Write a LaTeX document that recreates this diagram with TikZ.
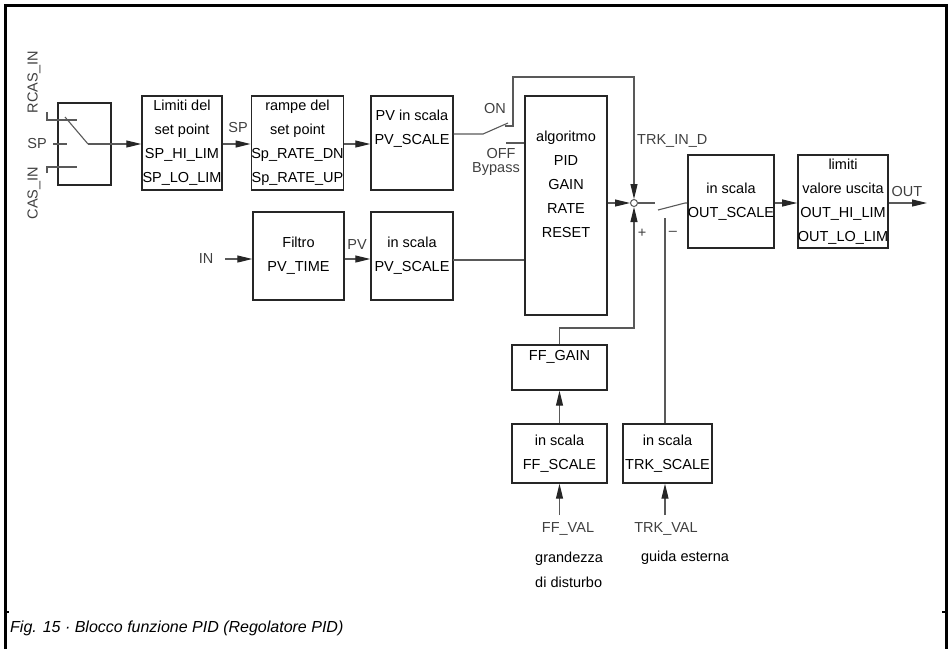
\documentclass[tikz,border=0pt]{standalone}
\usepackage{fontspec}
\setmainfont{Liberation Sans}
\usetikzlibrary{arrows.meta}
\definecolor{boxc}{gray}{0.15}
\definecolor{wirec}{gray}{0.35}
\definecolor{labc}{gray}{0.25}
\begin{document}
\begin{tikzpicture}[x=1pt,y=-1pt,
  box/.style={draw=boxc, line width=1.4pt, inner sep=0pt, align=center,
    font=\fontsize{14.5}{24}\selectfont, text=black},
  btext/.style={inner sep=0pt, align=center, font=\fontsize{14.5}{24}\selectfont, text=black, anchor=north},
  wire/.style={draw=wirec, line width=1.1pt},
  arr/.style={wire, -{Triangle[length=15pt,width=7pt,color=boxc]}},
  lbl/.style={font=\fontsize{14.5}{17}\selectfont, text=labc, inner sep=0pt},
]
\useasboundingbox (0,0) rectangle (950,649);
% frame
\draw[line width=3pt] (5,649) -- (5,5) -- (946,5) -- (946,649);
\draw[line width=2pt] (5,612) -- (9,612);
\draw[line width=2pt] (942,612) -- (946,612);

% boxes
\node[box, minimum width=53pt, minimum height=82pt] (sw) at (84.5,144) {};
\node[box, minimum width=80pt, minimum height=94pt] (lim) at (182,143)
  {Limiti del\\set point\\SP\_HI\_LIM\\SP\_LO\_LIM};
\node[box, minimum width=91pt, minimum height=94pt] (ramp) at (297.5,143)
  {rampe del\\set point\\Sp\_RATE\_DN\\Sp\_RATE\_UP};
\node[box, minimum width=82pt, minimum height=94pt] (pvsp) at (412,143) {};
\node[btext] (pvspt) at (412,110) {PV in scala\\PV\_SCALE};
\node[box, minimum width=82pt, minimum height=219pt] (alg) at (566,205.5) {};
\node[btext] (algt) at (566,131) {algoritmo\\PID\\GAIN\\RATE\\RESET};
\node[box, minimum width=91pt, minimum height=88pt] (filt) at (298.5,256) {Filtro\\PV\_TIME};
\node[box, minimum width=82pt, minimum height=88pt] (pvs2) at (412,256) {in scala\\PV\_SCALE};
\node[box, minimum width=82pt, minimum height=93pt] (outs) at (731,201.5) {in scala\\OUT\_SCALE};
\node[box, minimum width=88pt, minimum height=93pt] (lims) at (843,201.5)
  {limiti\\valore uscita\\OUT\_HI\_LIM\\OUT\_LO\_LIM};
\node[box, minimum width=95pt, minimum height=45pt] (ffg) at (559.5,367.5) {};
\node[btext] (ffgt) at (559.5,350) {FF\_GAIN};
\node[box, minimum width=95pt, minimum height=59pt] (ffs) at (559.5,453.5) {in scala\\FF\_SCALE};
\node[box, minimum width=89pt, minimum height=59pt] (trks) at (667.5,453.5) {in scala\\TRK\_SCALE};
\node[circle, draw=wirec, line width=1pt, minimum size=7pt, inner sep=0pt, fill=white] (sum) at (634,203) {};

% switch internals
\coordinate (rcA) at (47,112); \coordinate (rcB) at (47,120); \coordinate (rcC) at (77,120);
\coordinate (caA) at (47,173); \coordinate (caB) at (47,167); \coordinate (caC) at (77,167);
\coordinate (spA) at (53,144); \coordinate (spB) at (67,144);
\coordinate (blA) at (65,117); \coordinate (blB) at (88,144);
\draw[wire] (rcA) -- (rcB) -- (rcC);
\draw[wire] (caA) -- (caB) -- (caC);
\draw[wire] (spA) -- (spB);
\draw[wire] (blA) -- (blB);
\draw[arr] (blB) -- (blB -| lim.west);

% top chain
\draw[arr] (lim.east |- blB) -- (ramp.west |- blB);
\draw[arr] (ramp.east |- blB) -- (pvsp.west |- blB);

% ON/OFF switch
\coordinate (onA) at (483,134); \coordinate (onB) at (508,123);
\coordinate (onC) at (505,126); \coordinate (onD) at (513,126);
\coordinate (onE) at (513,77);
\draw[wire] (pvsp.east |- onA) -- (onA) -- (onB);
\draw[arr] (onC) -- (onD) -- (onE) -- (onE -| sum) -- (sum.north);
\coordinate (offA) at (506,143);
\draw[wire] (offA) -- (offA -| alg.west);

% PV chain
\coordinate (inS) at (225,259);
\draw[arr] (inS) -- (inS -| filt.west);
\draw[arr] (filt.east |- inS) -- (pvs2.west |- inS);
\coordinate (pvl) at (453,260);
\draw[wire] (pvl) -- (pvl -| alg.west);

% summing junction
\draw[arr] (alg.east |- sum) -- (sum.west);
\coordinate (ffy) at (0,328);
\draw[arr] (ffg.north) -- (ffg.north |- ffy) -- (sum |- ffy) -- (sum.south);
\draw[arr] (ffs.north) -- (ffg.south);
\coordinate (ffv) at (559.5,515);
\draw[arr] (ffv) -- (ffs.south);

% output switch
\coordinate (soA) at (655,203); \coordinate (soB) at (658,210); \coordinate (soC) at (685,203);
\draw[wire] (sum.east) -- (soA);
\draw[wire] (soB) -- (soC) -- (outs.west |- soC);
\coordinate (trkTop) at (665,218);
\draw[wire] (trkTop) -- (trkTop |- trks.north);
\coordinate (trkv) at (665,515);
\draw[arr] (trkv) -- (trkv |- trks.south);

\draw[arr] (outs.east |- sum) -- (lims.west |- sum);
\coordinate (outE) at (927,203);
\draw[arr] (lims.east |- outE) -- (outE);

% labels
\node[lbl, rotate=90] (rcasl) at (34,82) {RCAS\_IN};
\node[lbl] (spl) at (37,144) {SP};
\node[lbl, rotate=90] (casl) at (34,193) {CAS\_IN};
\node[lbl] (spl2) at (238,128) {SP};
\node[lbl] (pvlab) at (357,245) {PV};
\node[lbl] (inl) at (206,259) {IN};
\node[lbl] (onl) at (495,109) {ON};
\node[lbl] (offl) at (501,154) {OFF};
\node[lbl] (byl) at (496,169) {Bypass};
\node[lbl, anchor=west] (trkl) at (637,141) {TRK\_IN\_D};
\node[lbl] (plus) at (642,233) {+};
\node[lbl] (minus) at (673,233) {–};
\node[lbl] (outl) at (907,192) {OUT};
\node[lbl] (ffvl) at (568,529) {FF\_VAL};
\node[lbl] (trkvl) at (666,529) {TRK\_VAL};
\node[lbl, align=left, anchor=north west, font=\fontsize{14.5}{25}\selectfont, text=black] (gdl) at (535,552) {grandezza\\di disturbo};
\node[lbl, text=black] (gel) at (685,558) {guida esterna};
\node[anchor=base west, inner sep=0pt, font=\fontsize{16}{19}\selectfont\itshape, text=black] (cap) at (10,632)
  {Fig. 15 · Blocco funzione PID (Regolatore PID)};
\end{tikzpicture}
\end{document}
